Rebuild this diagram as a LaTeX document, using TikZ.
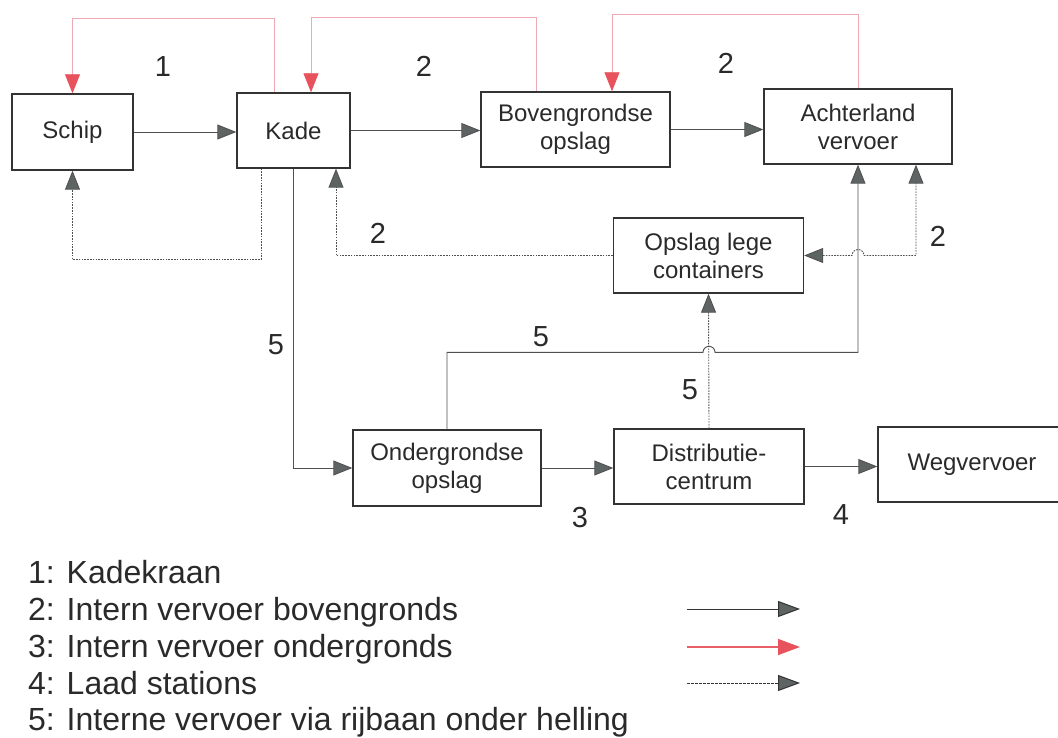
\documentclass[tikz,border=0pt]{standalone}
\usepackage{fontspec}
\setmainfont{Liberation Sans}
\usetikzlibrary{arrows.meta,calc}
\definecolor{boxline}{HTML}{333333}
\definecolor{conn}{HTML}{505050}
\definecolor{tipfill}{HTML}{5E6463}
\definecolor{pinkline}{RGB}{238,170,178}
\definecolor{redtip}{RGB}{232,82,92}
\definecolor{legred}{RGB}{232,95,105}
\definecolor{txt}{HTML}{2A2A2A}
\begin{document}
\begin{tikzpicture}[x=1pt,y=-1pt,
  box/.style={draw=boxline,line width=1.4pt,fill=white,inner sep=0pt,
    minimum height=75pt,align=center,text=txt,
    font=\fontsize{24}{28}\selectfont},
  gtip/.style={-{Triangle[length=19pt,width=15pt,fill=tipfill]}},
  conn/.style={draw=conn,line width=0.9pt},
  solidarrow/.style={conn,gtip},
  dotarrow/.style={conn,gtip,dash pattern=on 1.6pt off 1.2pt},
  redarrow/.style={draw=pinkline,line width=0.9pt,
    -{Triangle[length=19pt,width=15pt,color=redtip]}},
  num/.style={text=txt,font=\fontsize{29}{29}\selectfont,inner sep=0pt},
  legtext/.style={text=txt,font=\fontsize{32}{32}\selectfont,inner sep=0pt,anchor=base west}
]
\useasboundingbox (0,0) rectangle (1058,738);
\fill[white] (0,0) rectangle (1058,738);

% boxes
\node[box,minimum width=121pt,minimum height=76pt] (Schip) at (72.5,132) {Schip};
\node[box,minimum width=113pt] (Kade) at (293.5,130.5) {Kade};
\node[box,minimum width=189pt] (Bov) at (575.5,129.5) {Bovengrondse\\opslag};
\node[box,minimum width=188pt] (Acht) at (858,126.5) {Achterland\\vervoer};
\node[box,minimum width=190pt] (Opslag) at (708.5,255.5) {Opslag lege\\containers};
\node[box,minimum width=188pt,minimum height=76pt] (Ond) at (447,468) {Ondergrondse\\opslag};
\node[box,minimum width=190pt] (Dist) at (709,466.5) {Distributie-\\centrum};
\node[box,minimum width=188pt] (Weg) at (972,464.5) {Wegvervoer};

% horizontal main flow
\draw[solidarrow] (Schip.east) -- (Schip.east -| Kade.west);
\draw[solidarrow] (Kade.east) -- (Kade.east -| Bov.west);
\draw[solidarrow] (Bov.east) -- (Bov.east -| Acht.west);
\draw[solidarrow] (Ond.east) -- (Ond.east -| Dist.west);
\draw[solidarrow] (Dist.east) -- (Dist.east -| Weg.west);

% red return loops
\draw[redarrow] ([xshift=-19.5pt]Kade.north) |- ([yshift=75pt]Schip.north) -- (Schip.north);
\draw[redarrow] ([xshift=-39.5pt]Bov.north) |- ([xshift=17.5pt,yshift=75pt]Kade.north) -- ([xshift=17.5pt]Kade.north);
\draw[redarrow] (Acht.north) |- ([xshift=36.5pt,yshift=77pt]Bov.north) -- ([xshift=36.5pt]Bov.north);

% dotted loops
\draw[dotarrow] ([xshift=-32.5pt]Kade.south) |- ([yshift=-89pt]Schip.south) -- (Schip.south);
\draw[dotarrow] (Opslag.west) -| ([xshift=42.5pt]Kade.south);
\draw[dotarrow] (Dist.north) -- (Opslag.south);
\coordinate (dc) at ([xshift=58pt]Acht.south |- Opslag.east);
\draw[conn,dash pattern=on 1.6pt off 1.2pt,
  {Triangle[length=19pt,width=15pt,fill=tipfill]}-{Triangle[length=19pt,width=15pt,fill=tipfill]}]
  (Opslag.east) -- ($(Opslag.east -| Acht.south)+(-6pt,0)$)
  arc[start angle=180,end angle=0,radius=6pt]
  -- (dc) -- ([xshift=58pt]Acht.south);

% solid underground links
\draw[solidarrow] (Kade.south) |- (Ond.west);
\coordinate (uc) at ([yshift=77pt]Ond.north);
\draw[solidarrow] (Ond.north) -- (uc)
  -- ($(uc -| Dist.north)+(-6pt,0)$)
  arc[start angle=180,end angle=0,radius=6pt]
  -- (uc -| Acht.south) -- (Acht.south);

% numbers
\node[num] (n1) at (163,67) {1};
\node[num] (n2a) at (424,66) {2};
\node[num] (n2b) at (726,63) {2};
\node[num] (n2c) at (378,233) {2};
\node[num] (n2d) at (938,236) {2};
\node[num] (n5a) at (276,345) {5};
\node[num] (n5b) at (541,337) {5};
\node[num] (n5c) at (690,390) {5};
\node[num] (n3) at (580,518) {3};
\node[num] (n4) at (841,515) {4};

% legend
\node[legtext] (l1) at (28,583) {1: Kadekraan};
\node[legtext] (l2) at (28,620) {2: Intern vervoer bovengronds};
\node[legtext] (l3) at (28,657) {3: Intern vervoer ondergronds};
\node[legtext] (l4) at (28,694) {4: Laad stations};
\node[legtext] (l5) at (28,730) {5: Interne vervoer via rijbaan onder helling};

\coordinate (a1s) at (687,609); \coordinate (a1e) at (800,609);
\coordinate (a2s) at (687,647); \coordinate (a2e) at (800,647);
\coordinate (a3s) at (687,683); \coordinate (a3e) at (800,683);
\draw[draw=boxline,line width=1pt,-{Triangle[length=22pt,width=16pt,fill=tipfill]}] (a1s) -- (a1e);
\draw[draw=legred,line width=1.4pt,-{Triangle[length=22pt,width=16pt,color=redtip]}] (a2s) -- (a2e);
\draw[draw=boxline,line width=1pt,dash pattern=on 2.5pt off 1.5pt,-{Triangle[length=22pt,width=16pt,fill=tipfill]}] (a3s) -- (a3e);
\end{tikzpicture}
\end{document}
